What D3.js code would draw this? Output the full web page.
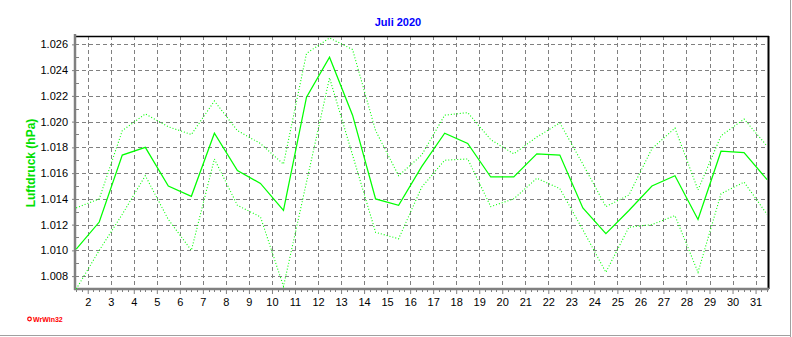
<!DOCTYPE html>
<html>
<head>
<meta charset="utf-8">
<script src="https://cdn.jsdelivr.net/npm/d3@7"></script>
<style>
  html, body { margin: 0; padding: 0; background: #fff; }
  svg { display: block; font-family: "Liberation Sans", Arial, sans-serif; }
</style>
</head>
<body>
<svg id="chart" width="792" height="337"></svg>
<script>
// ---- data (July 2020, daily air pressure, plotted at noon of each day) ----
const days = [1,2,3,4,5,6,7,8,9,10,11,12,13,14,15,16,17,18,19,20,21,22,23,24,25,26,27,28,29,30,31];
const meanValues = [1.0101, 1.0122, 1.0174, 1.0180, 1.0150, 1.0142, 1.0191, 1.0162, 1.0152, 1.0131,
                    1.0219, 1.0250, 1.0205, 1.0140, 1.0135, 1.0165, 1.0191, 1.0183, 1.0157, 1.0157,
                    1.0175, 1.0174, 1.0133, 1.0113, 1.0131, 1.0150, 1.0158, 1.0124, 1.0177, 1.0176, 1.0155];
const maxValues  = [1.0133, 1.0140, 1.0193, 1.0206, 1.0196, 1.0190, 1.0216, 1.0193, 1.0183, 1.0167,
                    1.0253, 1.0265, 1.0256, 1.0193, 1.0158, 1.0174, 1.0205, 1.0207, 1.0186, 1.0175,
                    1.0188, 1.0199, 1.0167, 1.0134, 1.0143, 1.0179, 1.0195, 1.0147, 1.0189, 1.0202, 1.0181];
const minValues  = [1.0070, 1.0100, 1.0128, 1.0158, 1.0124, 1.0100, 1.0171, 1.0135, 1.0126, 1.0072,
                    1.0153, 1.0234, 1.0174, 1.0114, 1.0109, 1.0149, 1.0170, 1.0171, 1.0134, 1.0140,
                    1.0156, 1.0148, 1.0116, 1.0083, 1.0118, 1.0120, 1.0127, 1.0083, 1.0144, 1.0153, 1.0128];
const xTickLabels = [2,3,4,5,6,7,8,9,10,11,12,13,14,15,16,17,18,19,20,21,22,23,24,25,26,27,28,29,30,31];
const yTickValues = [1.008, 1.010, 1.012, 1.014, 1.016, 1.018, 1.020, 1.022, 1.024, 1.026];
const titleText = "Juli 2020";
const yAxisTitle = "Luftdruck (hPa)";
const creditText = "WrWin32";

// ---- layout ----
const L = 75, R = 768, T = 36, B = 289;
const svg = d3.select("#chart");

const x = d3.scaleLinear().domain([1.447, 31.54]).range([L, R]);
const y = d3.scaleLinear().domain([1.007, 1.02665]).range([B, T]);

// outer frame (right & bottom shadow lines)
svg.append("line").attr("x1", 790.5).attr("x2", 790.5).attr("y1", 0).attr("y2", 337)
  .attr("stroke", "#a0a0a0").attr("stroke-width", 1);
svg.append("line").attr("x1", 0).attr("x2", 791).attr("y1", 335.5).attr("y2", 335.5)
  .attr("stroke", "#a0a0a0").attr("stroke-width", 1);

// grid
const grid = svg.append("g");
grid.selectAll(".vg").data(xTickLabels).join("line")
  .attr("x1", d => Math.round(x(d)) + 0.5).attr("x2", d => Math.round(x(d)) + 0.5)
  .attr("y1", T).attr("y2", B)
  .attr("stroke", "#808080").attr("stroke-width", 1).attr("stroke-dasharray", "4,3");
grid.selectAll(".hg").data(yTickValues).join("line")
  .attr("x1", L).attr("x2", R)
  .attr("y1", d => Math.round(y(d)) + 0.5).attr("y2", d => Math.round(y(d)) + 0.5)
  .attr("stroke", "#808080").attr("stroke-width", 1).attr("stroke-dasharray", "4,3");

// top & right border
svg.append("line").attr("x1", L).attr("x2", R + 1).attr("y1", T + 0.5).attr("y2", T + 0.5)
  .attr("stroke", "#000").attr("stroke-width", 1.5);
svg.append("line").attr("x1", R + 0.5).attr("x2", R + 0.5).attr("y1", T).attr("y2", B)
  .attr("stroke", "#000").attr("stroke-width", 2);

// y axis
const yAxis = d3.axisLeft(y)
  .tickValues(yTickValues)
  .tickFormat(d3.format(".3f"))
  .tickSize(3).tickPadding(4);
const gy = svg.append("g").attr("transform", `translate(${L},0)`).call(yAxis);
gy.select(".domain").remove();
gy.selectAll("line").attr("stroke", "#808080");
gy.selectAll("text").attr("font-size", "11px").attr("fill", "#000")
  .attr("font-family", "Liberation Sans, Arial, sans-serif");
// minor y ticks inside
const yMinor = d3.range(0, 20).map(i => +(1.007 + i * 0.001).toFixed(3));
svg.append("g").selectAll("line").data(yMinor).join("line")
  .attr("x1", L).attr("x2", L + 4)
  .attr("y1", d => Math.round(y(d)) + 0.5).attr("y2", d => Math.round(y(d)) + 0.5)
  .attr("stroke", "#808080");

// x axis
const xAxis = d3.axisBottom(x).tickValues(xTickLabels).tickFormat(d => d).tickSize(5).tickPadding(4);
const gx = svg.append("g").attr("transform", `translate(0,${B})`).call(xAxis);
gx.select(".domain").remove();
gx.selectAll("line").attr("stroke", "#808080");
gx.selectAll("text").attr("font-size", "11px").attr("fill", "#000")
  .attr("font-family", "Liberation Sans, Arial, sans-serif");
const xMinor = d3.range(0, 121).map(i => 1.5 + i * 0.25).filter(d => d > 1.45 && d < 31.55 && d % 1 !== 0);
svg.append("g").selectAll("line").data(xMinor).join("line")
  .attr("x1", d => Math.round(x(d)) + 0.5).attr("x2", d => Math.round(x(d)) + 0.5)
  .attr("y1", B).attr("y2", B + 3)
  .attr("stroke", "#808080");

// thick left & bottom axis lines
svg.append("line").attr("x1", L).attr("x2", L).attr("y1", T - 2).attr("y2", B + 1)
  .attr("stroke", "#808080").attr("stroke-width", 2.5);
svg.append("line").attr("x1", L - 1).attr("x2", R + 1).attr("y1", B).attr("y2", B)
  .attr("stroke", "#808080").attr("stroke-width", 2.5);

// clip
svg.append("clipPath").attr("id", "plotclip").append("rect")
  .attr("x", L).attr("y", T - 1).attr("width", R - L).attr("height", B - T + 2);

const line = d3.line().x((d, i) => x(days[i] + 0.5)).y(d => y(d));
const plot = svg.append("g").attr("clip-path", "url(#plotclip)");
plot.append("path").datum(maxValues).attr("d", line)
  .attr("fill", "none").attr("stroke", "#00ff00").attr("stroke-width", 1.1).attr("stroke-dasharray", "1,2");
plot.append("path").datum(minValues).attr("d", line)
  .attr("fill", "none").attr("stroke", "#00ff00").attr("stroke-width", 1.1).attr("stroke-dasharray", "1,2");
plot.append("path").datum(meanValues).attr("d", line)
  .attr("fill", "none").attr("stroke", "#00ff00").attr("stroke-width", 1.25);

// title
svg.append("text").attr("x", 398).attr("y", 26).attr("text-anchor", "middle")
  .attr("font-size", "11px").attr("font-weight", "bold").attr("fill", "#0000ff")
  .text(titleText);

// y axis title
svg.append("text").attr("transform", "translate(35,163) rotate(-90)")
  .attr("text-anchor", "middle").attr("font-size", "12px").attr("font-weight", "bold")
  .attr("fill", "#00e000").text(yAxisTitle);

// credit
svg.append("circle").attr("cx", 29.5).attr("cy", 319).attr("r", 1.8)
  .attr("fill", "none").attr("stroke", "#ff0000").attr("stroke-width", 1.2);
svg.append("text").attr("x", 33).attr("y", 322).attr("font-size", "7px").attr("font-weight", "bold")
  .attr("fill", "#ff0000").text(creditText);
</script>
</body>
</html>
